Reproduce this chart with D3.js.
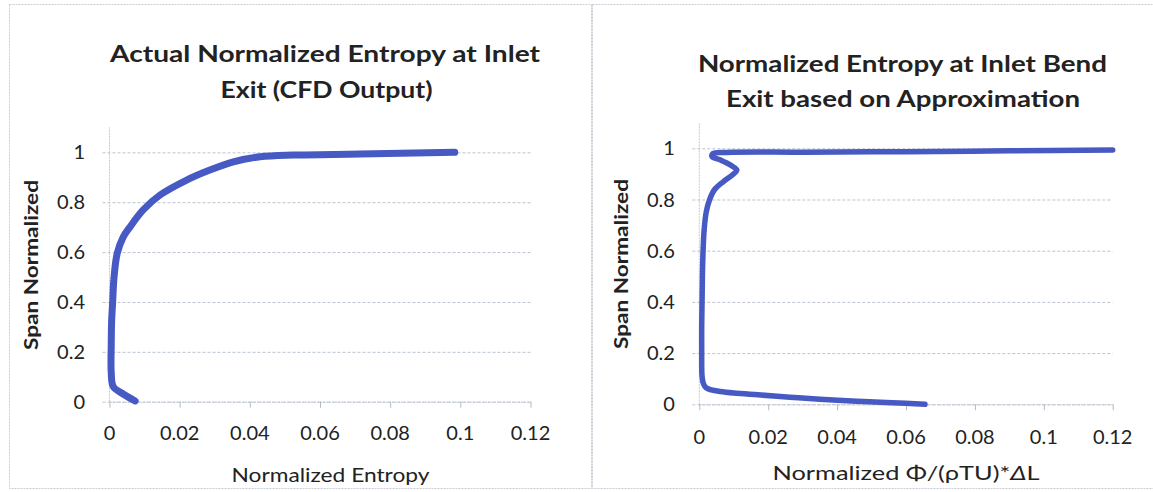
<!DOCTYPE html>
<html>
<head>
<meta charset="utf-8">
<script src="https://cdn.jsdelivr.net/npm/d3@7"></script>
<style>
  html, body { margin: 0; padding: 0; background: #ffffff; }
  svg { display: block; }
  text { font-family: Lato, "Open Sans", sans-serif; fill: #222; }
</style>
</head>
<body>
<svg id="chart" width="1153" height="492"></svg>
<script>
// Axis ticks shared by both panels
const xTicks = [0, 0.02, 0.04, 0.06, 0.08, 0.1, 0.12];
const yTicks = [0, 0.2, 0.4, 0.6, 0.8, 1];

// Left panel: entropy profile from the CFD solution
const cfdEntropy = [0.0073, 0.0040, 0.0011, 0.0005, 0.0005, 0.0006, 0.0009, 0.0013, 0.0022, 0.0039, 0.0058, 0.0096, 0.0144, 0.0220, 0.0286, 0.0353, 0.0429, 0.0524, 0.0714, 0.0984];
const cfdSpan    = [0.003, 0.030, 0.060, 0.114, 0.234, 0.320, 0.400, 0.500, 0.595, 0.660, 0.700, 0.769, 0.829, 0.889, 0.929, 0.962, 0.982, 0.989, 0.993, 1.000];

// Right panel: dissipation-based approximation
const approxEntropy = [0.0655, 0.0560, 0.0457, 0.0350, 0.0263, 0.0170, 0.0100, 0.0060, 0.0035, 0.0020, 0.0012, 0.0008, 0.0007, 0.0007, 0.0008, 0.0009, 0.0011, 0.0014, 0.0020, 0.0030, 0.0045, 0.0070, 0.0095, 0.0109, 0.0090, 0.0060, 0.0037, 0.0040, 0.0080, 0.0300, 0.0600, 0.0900, 0.1200];
const approxSpan    = [0.000, 0.006, 0.012, 0.020, 0.028, 0.037, 0.044, 0.050, 0.056, 0.064, 0.080, 0.110, 0.200, 0.300, 0.400, 0.500, 0.600, 0.680, 0.750, 0.800, 0.840, 0.870, 0.895, 0.915, 0.935, 0.955, 0.968, 0.980, 0.984, 0.985, 0.987, 0.990, 0.993];

const leftTitle  = ["Actual Normalized Entropy  at Inlet", "Exit (CFD Output)"];
const rightTitle = ["Normalized Entropy at Inlet Bend", "Exit based on Approximation"];
const yTitle = "Span Normalized";
const leftXTitle = "Normalized Entropy";

const svg = d3.select("#chart");
const lineColor = "#4759c2";

// Chart area frames
svg.append("rect").attr("x", 9.5).attr("y", 4.5).attr("width", 582).attr("height", 484)
  .attr("fill", "none").attr("stroke", "#c9ccd4").attr("stroke-dasharray", "2,1");
svg.append("rect").attr("x", 592.5).attr("y", 4.5).attr("width", 570).attr("height", 484)
  .attr("fill", "none").attr("stroke", "#c9ccd4").attr("stroke-dasharray", "2,1");

function drawPanel(p) {
  const x = d3.scaleLinear().domain([0, 0.12]).range([p.x0, p.x1]);
  const y = d3.scaleLinear().domain([0, 1.1]).range([p.y0, p.yTop]);
  const g = svg.append("g");

  // horizontal gridlines, reaching a few px left of the axis as ticks
  g.append("g")
    .attr("transform", `translate(${p.x0},0)`)
    .call(d3.axisLeft(y).tickValues(yTicks).tickSize(-(p.x1 - p.x0)).tickFormat(""))
    .call(s => s.select(".domain").remove())
    .call(s => s.selectAll(".tick line")
      .attr("x1", -7)
      .attr("stroke", "#b9c3d0").attr("stroke-dasharray", "3,2").attr("stroke-width", 1));

  // y axis line
  g.append("line")
    .attr("x1", p.x0).attr("x2", p.x0).attr("y1", y(0)).attr("y2", y(1.1))
    .attr("stroke", "#c3c8d2").attr("stroke-dasharray", "2,1");

  // x axis with short downward ticks
  g.append("g")
    .attr("transform", `translate(0,${p.y0})`)
    .call(d3.axisBottom(x).tickValues(xTicks).tickSize(6).tickSizeOuter(0).tickFormat(""))
    .call(s => s.select(".domain").attr("stroke", "#c3c8d2").attr("stroke-dasharray", "2,1"))
    .call(s => s.selectAll(".tick line").attr("stroke", "#b4b9c4"));

  // tick labels
  g.selectAll(".xl").data(xTicks).join("text")
    .attr("x", d => x(d)).attr("y", p.y0 + p.xLabelDy)
    .attr("text-anchor", "middle").attr("font-size", 20)
    .text(d => String(d));
  g.selectAll(".yl").data(yTicks).join("text")
    .attr("x", p.x0 - 24.5).attr("y", d => y(d) + 7)
    .attr("text-anchor", "end").attr("font-size", 20)
    .text(d => String(d));

  // data curve
  const pts = p.xs.map((v, i) => [v, p.ys[i]]);
  const line = d3.line().x(d => x(d[0])).y(d => y(d[1])).curve(d3.curveCatmullRom.alpha(0.5));
  g.append("path")
    .datum(pts)
    .attr("fill", "none")
    .attr("stroke", lineColor)
    .attr("stroke-width", p.lw)
    .attr("stroke-linecap", "round").attr("stroke-linejoin", "round")
    .attr("d", line);

  // titles
  p.title.forEach((t, i) => {
    svg.append("text")
      .attr("x", p.titleX[i]).attr("y", p.titleY[i])
      .attr("text-anchor", "middle").attr("font-size", 23).attr("font-weight", 700)
      .attr("textLength", p.titleW[i]).attr("lengthAdjust", "spacingAndGlyphs")
      .text(t);
  });

  // y axis title
  svg.append("text")
    .attr("transform", `translate(${p.yTitleX},${p.yTitleY}) rotate(-90)`)
    .attr("text-anchor", "middle").attr("font-size", 18).attr("font-weight", 700)
    .attr("textLength", 170).attr("lengthAdjust", "spacingAndGlyphs")
    .text(yTitle);

  // x axis title
  const xt = svg.append("text")
    .attr("x", p.xTitleX).attr("y", p.xTitleY)
    .attr("text-anchor", "middle").attr("font-size", 20)
    .attr("textLength", p.xTitleW).attr("lengthAdjust", "spacingAndGlyphs");
  p.xTitleParts.forEach(part => {
    xt.append("tspan").attr("font-style", part.italic ? "italic" : null).text(part.t);
  });
}

drawPanel({
  x0: 109.5, x1: 530.5, y0: 401.7, yTop: 127.4, lw: 7,
  xs: cfdEntropy, ys: cfdSpan, xLabelDy: 38,
  title: leftTitle, titleX: [325, 326.5], titleY: [61.7, 98.3], titleW: [430, 212],
  yTitleX: 37.5, yTitleY: 265,
  xTitleX: 330.5, xTitleY: 482, xTitleW: 198,
  xTitleParts: [{ t: leftXTitle }]
});

drawPanel({
  x0: 699.3, x1: 1112.7, y0: 404.3, yTop: 122.7, lw: 5.5,
  xs: approxEntropy, ys: approxSpan, xLabelDy: 39.5,
  title: rightTitle, titleX: [902.4, 903], titleY: [71.7, 107.3], titleW: [409, 354],
  yTitleX: 628, yTitleY: 264,
  xTitleX: 906, xTitleY: 480, xTitleW: 267,
  xTitleParts: [{ t: "Normalized Φ/(ρTU)*" }, { t: "Δ", italic: true }, { t: "L" }]
});
</script>
</body>
</html>
